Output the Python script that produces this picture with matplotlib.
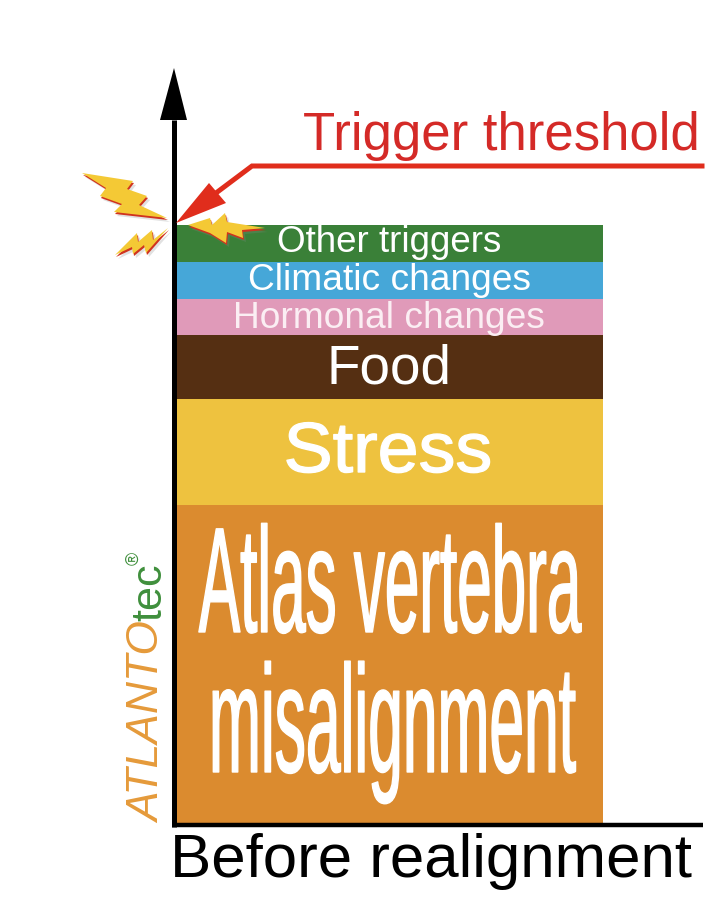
import matplotlib
matplotlib.use("Agg")
import matplotlib.pyplot as plt
import matplotlib.patheffects as path_effects
from matplotlib.patches import Polygon
from matplotlib.transforms import Affine2D

plt.rcParams['font.family'] = ['Liberation Sans', 'DejaVu Sans']

categories = ["Atlas vertebra\nmisalignment", "Stress", "Food", "Hormonal changes",
              "Climatic changes", "Other triggers"]
values = [318, 106, 64, 36, 37, 37]
colors = ["#db8b2f", "#eec23f", "#552f12", "#e09ab9", "#46a7d8", "#3a8038"]
xlabel = "Before realignment"
threshold_label = "Trigger threshold"


class Stretch(path_effects.AbstractPathEffect):
    # squeeze the glyphs around a point, Text has no option for it
    def __init__(self, sx, sy, centre, weight=0.0):
        super().__init__()
        self.sx, self.sy, self.centre, self.weight = sx, sy, centre, weight

    def draw_path(self, renderer, gc, tpath, affine, rgbFace=None):
        cx, cy = self.centre
        extra = Affine2D().translate(-cx, -cy).scale(self.sx, self.sy).translate(cx, cy)
        gc0 = renderer.new_gc()
        gc0.copy_properties(gc)
        gc0.set_linewidth(self.weight)
        gc0.set_foreground("white")
        renderer.draw_path(gc0, tpath, affine + extra, rgbFace)
        gc0.restore()


def py(y):
    # picture row to value above the baseline
    return 823 - y


def bolt(ax, pts):
    pts = [(x, py(y)) for x, y in pts]
    grey = [(x + 3, y - 4) for x, y in pts]
    red = [(x + 1, y - 2) for x, y in pts]
    ax.add_patch(Polygon(grey, color="#888888", alpha=0.25, lw=0, zorder=4))
    ax.add_patch(Polygon(red, color="#d0331f", lw=0, zorder=5))
    ax.add_patch(Polygon(pts, color="#f4c935", lw=0, zorder=6))


fig = plt.figure(figsize=(7.2, 9.08), dpi=100)
ax = fig.add_axes([0, 0, 1, 1])
ax.set_xlim(0, 720)
ax.set_ylim(-85, 823)
ax.axis('off')

# stacked column
bottom = 0
for name, val, col in zip(categories, values, colors):
    ax.bar(388.5, val, width=428, bottom=bottom, color=col, linewidth=0, zorder=2)
    bottom += val

# labels
ax.text(389.5, py(243), categories[5], color="white", fontsize=26.5, ha='center', va='center', zorder=3)
ax.text(390, py(280), categories[4], color="white", fontsize=26.7, ha='center', va='center', zorder=3)
ax.text(389, py(318), categories[3], color="#fbeef3", fontsize=26.7, ha='center', va='center', zorder=3)
ax.text(389, py(369), categories[2], color="white", fontsize=39.5, ha='center', va='center', zorder=3)

def stretched(txt, x, y, size, sx, sy, weight=0.0):
    t = ax.text(x, py(y), txt, color="white", fontsize=size, ha='center', va='baseline', zorder=3)
    cx, cy = ax.transData.transform((x, py(y)))
    t.set_path_effects([Stretch(sx, sy, (cx, cy), weight)])
    return t

stretched("Stress", 388, 472, 50, 1.06, 1.02, 1.0)
line1, line2 = categories[0].split("\n")
stretched(line1, 390, 632, 72, 0.62, 1.5, 1.0)
stretched(line2, 392.5, 772, 72, 0.623, 1.53, 1.0)

# axes arrows
ax.plot([174, 174], [py(120), py(827)], color="black", lw=3.6, solid_capstyle='butt', zorder=7)
ax.plot([172, 703], [py(825), py(825)], color="black", lw=3.2, solid_capstyle='butt', zorder=7)
ax.add_patch(Polygon([(174, py(68)), (187, py(120)), (160, py(120))], color="black", lw=0, zorder=7))

# lightning
bolt(ax, [(82, 173), (133, 181), (127, 189), (147, 196), (139, 205), (167, 218),
          (114, 212), (122, 204), (100, 196), (106, 188)])
bolt(ax, [(115, 255), (137, 233), (138, 242), (152, 230), (153, 240), (168, 228),
          (146, 253), (144, 245), (133, 254), (132, 247)])
bolt(ax, [(188, 225), (210, 218), (212, 225), (225, 213), (227, 222), (265, 228),
          (242, 230), (243, 238), (227, 232), (226, 243), (210, 233)])

# threshold pointer
ax.plot([702, 252, 212], [py(166), py(166), py(196)], color="#e02d1c", lw=3.6,
        solid_joinstyle='miter', zorder=8)
ax.add_patch(Polygon([(176, py(223)), (209, py(183)), (226, py(203))], color="#e02d1c", lw=0, zorder=8))
ax.text(501.5, py(136), threshold_label, color="#d42a27", fontsize=38, ha='center', va='center', zorder=8)

ax.text(431, py(861), xlabel, color="black", fontsize=44.5, ha='center', va='center', zorder=8)

# logo
ax.text(160, py(823), "ATLANTO", color="#e59a3a", fontsize=32, style='italic', rotation=90,
        ha='left', va='baseline', rotation_mode='anchor', zorder=3)
ax.text(161, py(621), "tec", color="#3f8f3c", fontsize=31, rotation=90,
        ha='left', va='baseline', rotation_mode='anchor', zorder=3)
ax.text(134, py(558), "®", color="#3f8f3c", fontsize=13, rotation=90,
        ha='center', va='center', rotation_mode='anchor', zorder=3)

fig.savefig("out.png", dpi=100)
plt.close(fig)
